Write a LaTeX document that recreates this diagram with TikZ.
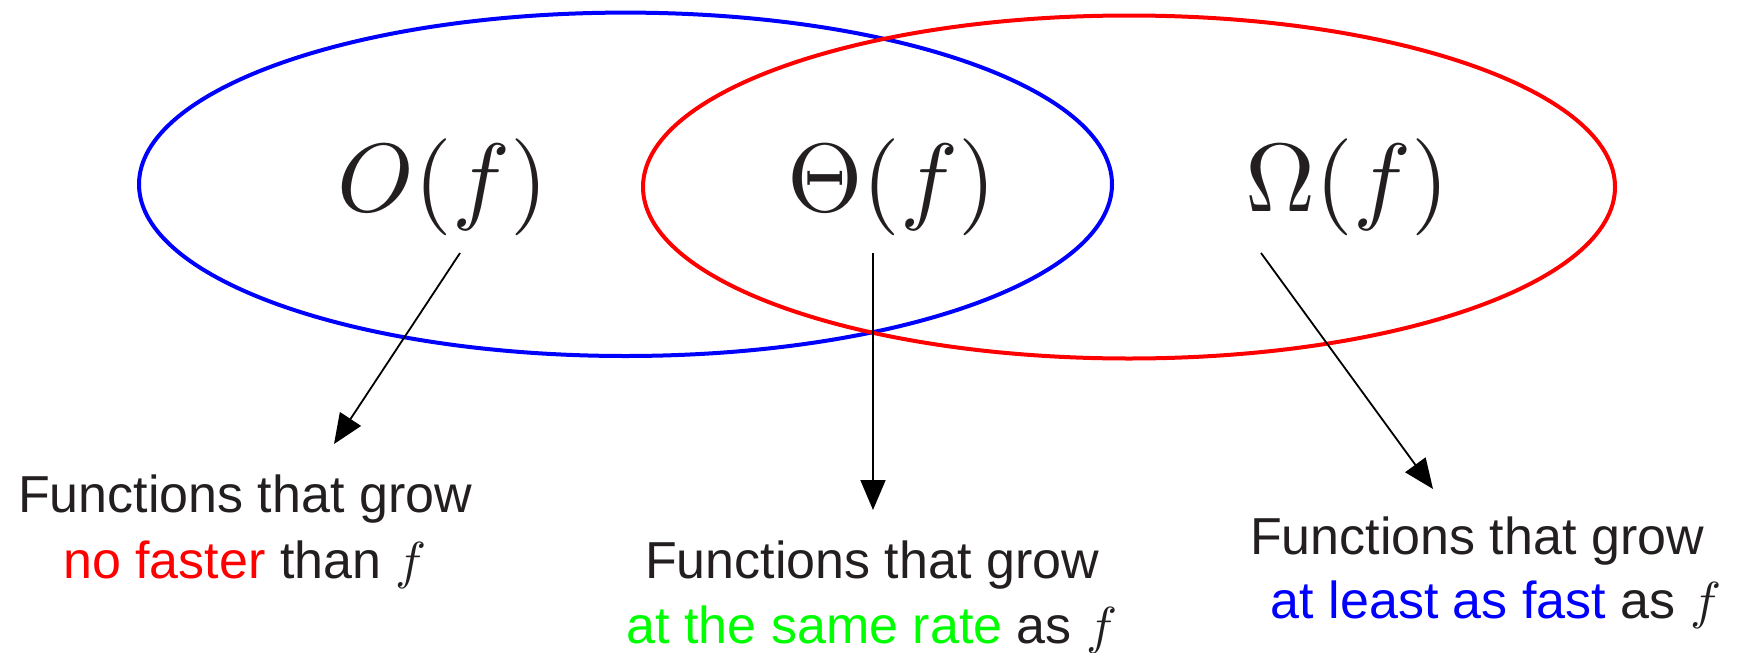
\RequirePackage{fix-cm}
\documentclass[tikz,border=0pt]{standalone}
\usepackage[no-math]{fontspec}
\newfontfamily\libsans{Liberation Sans}
\usetikzlibrary{arrows.meta}
\definecolor{txt}{RGB}{35,31,32}
\newcommand{\setlabelmath}[1]{\scalebox{9.7}{\fontsize{10}{12}\selectfont$#1$}}
\newcommand{\fsym}{\scalebox{5.2}{\fontsize{10}{12}\selectfont$f$}}
\begin{document}
\begin{tikzpicture}[x=1pt,y=-1pt,
  setellipse/.style={line width=4pt},
  biglabel/.style={inner sep=0pt, anchor=base, text=txt},
  desc/.style={inner sep=0pt, anchor=base, text=txt, font=\libsans\fontsize{52}{65}\selectfont},
  pointer/.style={line width=1.8pt, black, -{Triangle[length=30pt,width=25pt]}}]
\useasboundingbox (0,0) rectangle (1737,653);
% sets
\draw[setellipse, blue] (625.5,184.3) ellipse [x radius=486.5pt, y radius=171.7pt];
\draw[setellipse, red] (1129,187) ellipse [x radius=486pt, y radius=171.5pt];
% labels
\node[biglabel] (O) at (443,211) {\setlabelmath{O(f)}};
\node[biglabel] (T) at (892,211) {\setlabelmath{\Theta(f)}};
\node[biglabel] (W) at (1347,211) {\setlabelmath{\Omega(f)}};
% descriptions
\node[desc] (L1) at (245,512) {Functions that grow};
\node[desc] (L2) at (245,578) {\textcolor{red}{no faster} than \fsym};
\node[desc] (M1) at (872,578) {Functions that grow};
\node[desc] (M2) at (872,643) {\textcolor{green}{at the same rate} as \fsym};
\node[desc] (R1) at (1477,554) {Functions that grow};
\node[desc] (R2) at (1496,618) {\textcolor{blue}{at least as fast} as \fsym};
% arrows
\coordinate (Oa) at (460,253); \coordinate (Ob) at (334,444);
\coordinate (Ta) at (873,253); \coordinate (Tb) at (873,510);
\coordinate (Wa) at (1261,253); \coordinate (Wb) at (1433,489);
\draw[pointer] (Oa) -- (Ob);
\draw[pointer] (Ta) -- (Tb);
\draw[pointer] (Wa) -- (Wb);
\end{tikzpicture}
\end{document}
